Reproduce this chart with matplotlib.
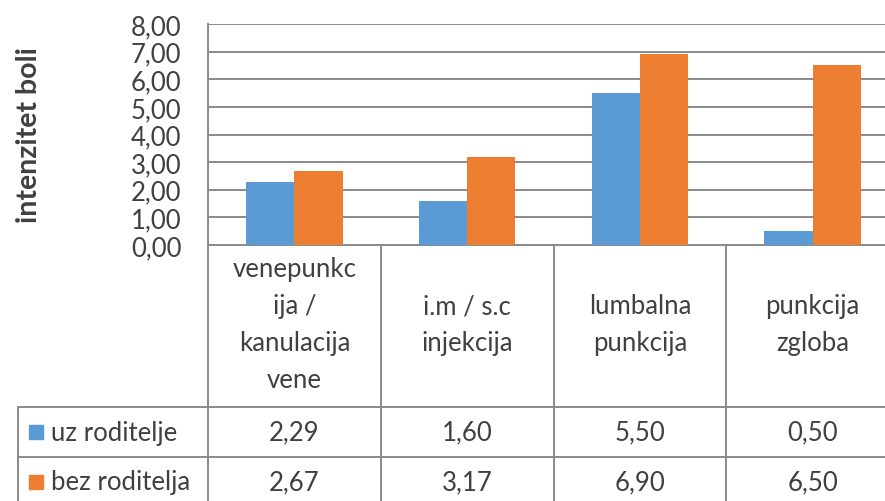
import matplotlib.pyplot as plt
import numpy as np
from matplotlib.patches import Rectangle
from matplotlib.ticker import FuncFormatter

# =========================
# podaci
# =========================
categories = ["venepunkc\nija /\nkanulacija\nvene", "i.m / s.c\ninjekcija",
              "lumbalna\npunkcija", "punkcija\nzgloba"]
series_names = ["uz roditelje", "bez roditelja"]
uz_roditelje = [2.29, 1.60, 5.50, 0.50]
bez_roditelja = [2.67, 3.17, 6.90, 6.50]
y_label = "intenzitet boli"

colors = ["#5B9BD5", "#ED7D31"]
line_col = "#8a8a8a"
txt_col = "#404040"
fs = 18.5
plt.rcParams['font.family'] = ['Lato', 'DejaVu Sans']

# =========================
# raspored (pikseli)
# =========================
W, H = 885, 502
def px(l, t, r, b):
    return [l / W, 1 - b / H, (r - l) / W, (b - t) / H]

fig = plt.figure(figsize=(W / 100, H / 100), dpi=100)
ax = fig.add_axes(px(208, 25, 899, 246))

x = np.arange(len(categories))
bw = 0.28
ax.bar(x - bw / 2, uz_roditelje, bw, color=colors[0], zorder=3)
ax.bar(x + bw / 2, bez_roditelja, bw, color=colors[1], zorder=3)

ax.set_xlim(-0.5, len(categories) - 0.5)
ax.set_ylim(0, 8)
ax.set_yticks(np.arange(0, 9, 1))
ax.yaxis.set_major_formatter(FuncFormatter(lambda v, p: f"{v:.2f}".replace(".", ",")))
ax.set_xticks([])
ax.tick_params(axis='y', length=0, pad=19, labelsize=fs, labelcolor=txt_col)
ax.yaxis.grid(True, color=line_col, lw=1.4)
ax.set_axisbelow(True)
for s in ["top", "right"]:
    ax.spines[s].set_visible(False)
for s in ["left", "bottom"]:
    ax.spines[s].set_color(line_col)
    ax.spines[s].set_linewidth(1.4)

fig.text(29 / W, 1 - 135 / H, y_label, rotation=90, ha="center", va="center",
         fontsize=20.5, fontweight="bold", color=txt_col)

# =========================
# tablica podataka
# =========================
tax = fig.add_axes(px(208, 246, 899, 508), sharex=ax)
tax.set_ylim(262, 0)
tax.axis("off")

def xd(p):
    return (p - 208) / 172.75 - 0.5

leg_left = xd(18)
rows = [0, 162, 212, 262]
kw = dict(color=line_col, lw=1.4, clip_on=False)
for b in np.arange(-0.5, len(categories), 1):
    tax.plot([b, b], [rows[0], rows[-1]], **kw)
tax.plot([leg_left, leg_left], [rows[1], rows[-1]], **kw)
for r in rows[1:]:
    tax.plot([leg_left, len(categories) - 0.5], [r, r], **kw)

for i, c in enumerate(categories):
    tax.text(i, (rows[0] + rows[1]) / 2 - 2, c, ha="center", va="center",
             fontsize=fs, color=txt_col, linespacing=1.6)

for k, (name, vals) in enumerate(zip(series_names, [uz_roditelje, bez_roditelja])):
    yc = (rows[k + 1] + rows[k + 2]) / 2
    tax.add_patch(Rectangle((xd(29), yc - 7), xd(43) - xd(29), 14,
                            color=colors[k], clip_on=False))
    tax.text(xd(51), yc, name, ha="left", va="center", fontsize=fs, color=txt_col)
    for i, v in enumerate(vals):
        tax.text(i, yc, f"{v:.2f}".replace(".", ","), ha="center", va="center",
                 fontsize=fs, color=txt_col)

fig.savefig("out.png", dpi=100)
